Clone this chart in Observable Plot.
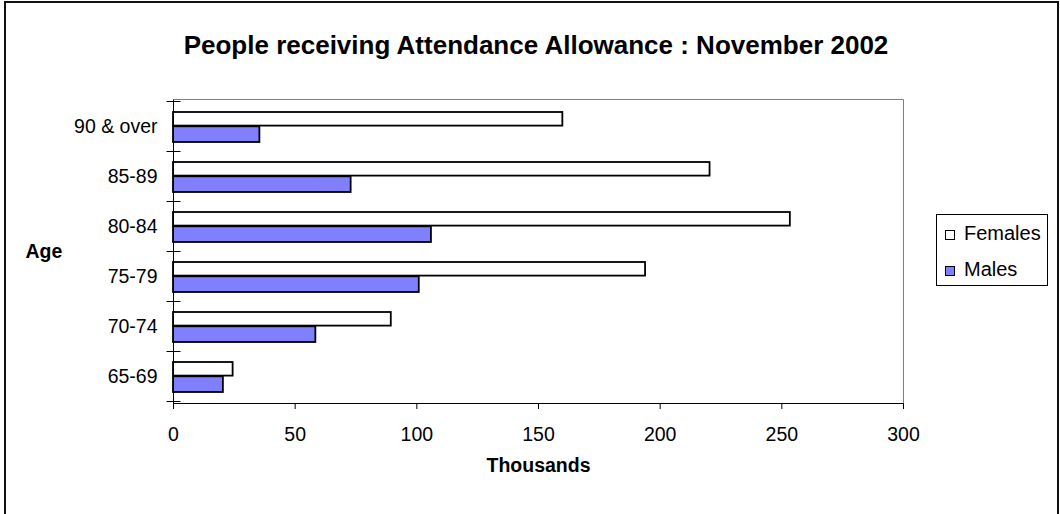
<!DOCTYPE html>
<html>
<head>
<meta charset="utf-8">
<script src="https://cdn.jsdelivr.net/npm/d3@7"></script>
<script src="https://cdn.jsdelivr.net/npm/@observablehq/plot@0.6"></script>
<style>
  html, body { margin: 0; padding: 0; background: #fff; overflow: hidden; }
  #wrap { position: relative; width: 1060px; height: 514px; overflow: hidden; font-family: "Liberation Sans", Arial, sans-serif; }
  #border { position: absolute; left: 4px; top: 1px; width: 1051px; height: 600px; border: 2px solid #111; box-sizing: content-box; pointer-events: none; }
  #title { position: absolute; left: 6px; top: 32px; width: 1060px; text-align: center; font-size: 26px; line-height: 26px; font-weight: bold; color: #000; }
  #head { height: 80px; }
  #legend { position: absolute; left: 936px; top: 214px; width: 112px; height: 72px; border: 1px solid #000; box-sizing: border-box; background: #fff; }
  .item { position: absolute; left: 8px; font-size: 20px; line-height: 20px; white-space: nowrap; }
  .sw { display: inline-block; width: 10px; height: 10px; border: 1px solid #000; box-sizing: border-box; margin-right: 9px; vertical-align: 0px; }
</style>
</head>
<body>
<div id="wrap">
  <div id="head"></div>
  <div id="title">People receiving Attendance Allowance : November 2002</div>
  <div id="chart"></div>
  <div id="legend"></div>
  <div id="border"></div>
</div>
<script>
// ---- data ----
const ages = ["90 & over", "85-89", "80-84", "75-79", "70-74", "65-69"];
const females = [160, 220.5, 253.5, 194, 89.5, 24.5];
const males = [35.5, 73, 106, 101, 58.5, 20.5];
const seriesNames = ["Females", "Males"];
const seriesColors = ["#ffffff", "#8080ff"];
const xTicks = [0, 50, 100, 150, 200, 250, 300];

const rows = ages.map((age, i) => ({age, females: females[i], males: males[i]}));

// frame lines and Excel-style category ticks at band boundaries
function axesFrame(index, scales, values, dims) {
  const x = scales.x, y = scales.y;
  const left = Math.round(x(0)) + 0.5;
  const right = Math.round(x(xTicks[xTicks.length - 1])) + 0.5;
  const top = dims.marginTop + 0.5;
  const bottom = dims.height - dims.marginBottom + 0.5;
  const g = d3.create("svg:g").attr("fill", "none");
  g.append("path").attr("d", `M${left},${top}H${right}V${bottom}`).attr("stroke", "#808080");
  g.append("path").attr("d", `M${left},${top}V${bottom}H${right}`).attr("stroke", "#000");
  const bounds = ages.map(a => y(a)).concat([y(ages[ages.length - 1]) + y.bandwidth()]);
  for (const b of bounds) {
    const yy = Math.round(b) + 0.5;
    g.append("line").attr("x1", left - 7).attr("x2", left + 7)
      .attr("y1", yy).attr("y2", yy).attr("stroke", "#000");
  }
  return g.node();
}

const plot = Plot.plot({
  width: 1060,
  height: 434,
  marginTop: 19,
  marginBottom: 111,
  marginLeft: 173,
  marginRight: 157,
  style: {fontFamily: "'Liberation Sans', Arial, sans-serif", fontSize: "19.5px", color: "#000", background: "transparent"},
  x: {domain: [0, 300], ticks: 6, tickSize: 6, tickPadding: 18, label: null, axis: "bottom"},
  y: {domain: ages, padding: 0, tickSize: 0, tickPadding: 16, label: null, axis: "left"},
  marks: [
    Plot.barX(rows, {y: "age", x: "females", fill: seriesColors[0], stroke: "#000", strokeWidth: 1.8, insetTop: 11, insetBottom: 25.4}),
    Plot.barX(rows, {y: "age", x: "males", fill: seriesColors[1], stroke: "#000", strokeWidth: 1.8, insetTop: 25.3, insetBottom: 9}),
    axesFrame,
    Plot.text(["Age"], {text: d => d, frameAnchor: "left", dx: -148, textAnchor: "start", fontWeight: "bold", fontSize: 19.5}),
    Plot.text(["Thousands"], {text: d => d, frameAnchor: "bottom", dy: 68, fontWeight: "bold", fontSize: 19.5})
  ]
});
document.getElementById("chart").appendChild(plot);

// legend
const legend = document.getElementById("legend");
seriesNames.forEach((name, i) => {
  const item = document.createElement("div");
  item.className = "item";
  item.style.top = (i === 0 ? 7.5 : 43.5) + "px";
  const sw = document.createElement("span");
  sw.className = "sw";
  sw.style.background = seriesColors[i];
  item.appendChild(sw);
  item.appendChild(document.createTextNode(name));
  legend.appendChild(item);
});
</script>
</body>
</html>
